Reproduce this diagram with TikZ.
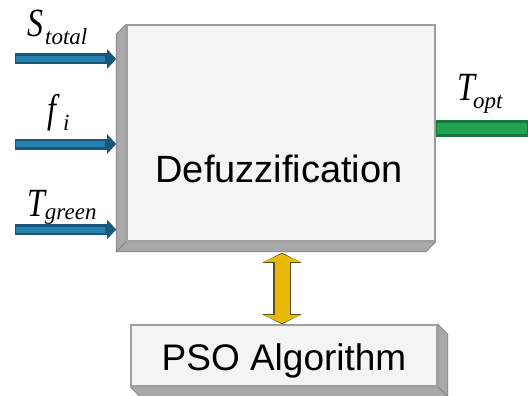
\documentclass[tikz,border=0pt]{standalone}
\usepackage{fontspec}
\setmainfont{Liberation Sans}
\newfontfamily\timesf{Liberation Serif}
\usetikzlibrary{arrows.meta,backgrounds}

\definecolor{facegray}{HTML}{F4F4F4}
\definecolor{edgegray}{HTML}{9E9E9E}
\definecolor{sidegray}{HTML}{A8A8A8}
\definecolor{sidedark}{HTML}{828282}
\definecolor{bluedark}{HTML}{18597B}
\definecolor{bluelight}{HTML}{2682AD}
\definecolor{greendark}{HTML}{15783C}
\definecolor{greenlight}{HTML}{21A24E}
\definecolor{yellowfill}{HTML}{E9B90A}
\definecolor{yellowedge}{HTML}{5E4E10}

\tikzset{
  face/.style={draw=edgegray, line width=1.6pt, fill=facegray, inner sep=0pt},
  bevel/.style={fill=sidegray, draw=sidedark, line width=0.8pt, line join=round},
  varlab/.style={inner sep=0pt, anchor=base west, font=\timesf\itshape},
  inarrow/.style={line width=11pt, draw=bluedark, -{Triangle[length=9pt,width=19pt]}},
  inshaft/.style={line width=6pt, draw=bluelight},
  outarrow/.style={line width=17pt, draw=greendark, -{Triangle[length=12pt,width=30pt]}},
  outshaft/.style={line width=11pt, draw=greenlight},
  linkedge/.style={line width=18pt, draw=yellowedge, {Triangle[length=10pt,width=39pt]}-{Triangle[length=10pt,width=39pt]}},
  linkfill/.style={line width=15pt, draw=yellowfill, {Triangle[length=8pt,width=35pt]}-{Triangle[length=8pt,width=35pt]}, shorten <=1pt, shorten >=1pt},
}
% a large main symbol followed by a lowered index
\newcommand{\mainsym}[1]{\scalebox{0.8}[1]{\fontsize{40}{40}\selectfont #1}}
\newcommand{\subtxt}[2]{\raisebox{-#1}{\fontsize{23}{23}\selectfont #2}}

\begin{document}
\begin{tikzpicture}[x=1pt,y=-1pt]
\useasboundingbox (0,0) rectangle (528,396);

% front faces of the two blocks
\node[face, minimum width=308pt, minimum height=216pt] (main) at (281,133) {};
\node[inner sep=0pt, anchor=base, font=\fontsize{38}{38}\selectfont] (maintxt) at (279,182) {Defuzzification};
\node[face, minimum width=306pt, minimum height=61pt] (pso) at (284,355.5) {};
\node[inner sep=0pt, anchor=base, font=\fontsize{37}{37}\selectfont] (psotxt) at (284,370) {PSO Algorithm};

% extruded sides
\begin{scope}[on background layer]
  \path[bevel] (main.north west) -- ++(-10,10) -- ([xshift=-10pt,yshift=-10pt]main.south west) -- (main.south west) -- cycle;
  \path[bevel] (main.south west) -- ++(-10,10) -- ([xshift=-10pt,yshift=-10pt]main.south east) -- (main.south east) -- cycle;
  \path[bevel] (pso.north east) -- ++(10,10) -- ([xshift=10pt,yshift=-10pt]pso.south east) -- (pso.south east) -- cycle;
  \path[bevel] (pso.south west) -- ++(10,10) -- ([xshift=10pt,yshift=-10pt]pso.south east) -- (pso.south east) -- cycle;
\end{scope}

% input arrows
\coordinate (in1) at (15,59);
\coordinate (in2) at (15,144);
\coordinate (in3) at (15,229.5);
\coordinate (leftside) at ([xshift=-10pt]main.west);
\foreach \c in {in1,in2,in3} {
  \draw[inarrow] (\c) -- (leftside |- \c);
  \draw[inshaft] ([xshift=1pt]\c) -- ([xshift=-11pt]leftside |- \c);
}

% output arrow
\coordinate (out) at (541,128.5);
\draw[outarrow] (main.east |- out) -- (out);
\draw[outshaft] ([xshift=1pt]main.east |- out) -- ([xshift=-14pt]out);

% link between the optimiser and the defuzzifier
\coordinate (linktop) at ([xshift=1pt,yshift=-11pt]main.south);
\coordinate (linkbot) at (pso.north -| linktop);
\draw[linkedge] (linktop) -- (linkbot);
\draw[linkfill] (linktop) -- (linkbot);

% variable labels
\node[varlab] (ls) at (27,37) {\mainsym{S}\kern2pt\subtxt{8pt}{total}};
\node[varlab] (lf) at (47,122) {\mainsym{f}\kern7pt\subtxt{8pt}{i}};
\node[varlab] (lt) at (27,216) {\mainsym{T}\kern0pt\subtxt{3pt}{green}};
\node[varlab] (lo) at (457,100) {\mainsym{T}\kern-2pt\subtxt{9pt}{opt}};
\end{tikzpicture}
\end{document}
